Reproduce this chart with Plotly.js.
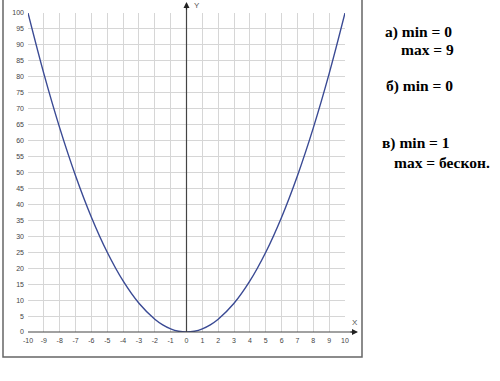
<!DOCTYPE html>
<html>
<head>
<meta charset="utf-8">
<script src="https://cdn.plot.ly/plotly-3.0.1.min.js"></script>
<style>html,body{margin:0;padding:0;background:#fff;}#chart{width:500px;height:381px;}</style>
</head>
<body>
<div id="chart"></div>
<script>
const xValues = [-10,-9,-8,-7,-6,-5,-4,-3,-2,-1.5,-1,-0.5,0,0.5,1,1.5,2,3,4,5,6,7,8,9,10];
const yValues = [100,81,64,49,36,25,16,9,4,2.25,1,0.25,0,0.25,1,2.25,4,9,16,25,36,49,64,81,100];
const xTicks = [-10,-9,-8,-7,-6,-5,-4,-3,-2,-1,0,1,2,3,4,5,6,7,8,9,10];
const yTicks = [0,5,10,15,20,25,30,35,40,45,50,55,60,65,70,75,80,85,90,95,100];
const notes = [
  {text:'а) min = 0', px:383, py:32},
  {text:'max = 9', px:399, py:49},
  {text:'б) min = 0', px:384, py:86},
  {text:'в) min = 1', px:380, py:143},
  {text:'max = бескон.', px:392, py:162}
];

const L = 28, R = 345, T = 13, B = 332;
const W = R - L, H = B - T;
const px2x = p => (p - L) / W;
const py2y = p => (B - p) / H;

const annotations = notes.map(n => ({
  xref:'paper', yref:'paper', x: px2x(n.px), y: py2y(n.py),
  xanchor:'left', yanchor:'middle', showarrow:false, text:'<b>'+n.text+'</b>',
  font:{family:'Liberation Serif, Times New Roman, serif', size:15.5, color:'#000'}
}));
// axis arrowheads
annotations.push({xref:'paper', yref:'paper', x:0.5, y:py2y(2), ax:0, ay:9, showarrow:true,
  arrowhead:2, arrowsize:1, arrowwidth:1.2, arrowcolor:'#222', text:''});
annotations.push({xref:'paper', yref:'paper', x:px2x(358), y:0, ax:-9, ay:0, showarrow:true,
  arrowhead:2, arrowsize:1, arrowwidth:1.2, arrowcolor:'#222', text:''});
annotations.push({xref:'paper', yref:'paper', x:px2x(192), y:py2y(5), xanchor:'left', yanchor:'middle',
  showarrow:false, text:'Y', font:{family:'Liberation Sans, Arial, sans-serif', size:8, color:'#555'}});
annotations.push({xref:'paper', yref:'paper', x:px2x(355), y:py2y(322), xanchor:'center', yanchor:'middle',
  showarrow:false, text:'X', font:{family:'Liberation Sans, Arial, sans-serif', size:8, color:'#555'}});

const shapes = [
  {type:'line', xref:'paper', yref:'paper', x0:0.5, x1:0.5, y0:0, y1:py2y(4), line:{color:'#444', width:1.2}},
  {type:'line', xref:'paper', yref:'paper', x0:0, x1:px2x(354), y0:0, y1:0, line:{color:'#444', width:1.2}},
  {type:'rect', xref:'paper', yref:'paper', x0:px2x(3), x1:px2x(362), y0:py2y(357), y1:py2y(-2), line:{color:'#666', width:1.5}, fillcolor:'rgba(0,0,0,0)'}
];

const data = [{
  x: xValues, y: yValues, type:'scatter', mode:'lines',
  line:{color:'#3a4a94', width:1.4, shape:'spline', smoothing:1}, cliponaxis:false, hoverinfo:'none'
}];

const layout = {
  width:500, height:381,
  margin:{l:L, r:500-R, t:T, b:381-B, pad:0},
  paper_bgcolor:'#fff', plot_bgcolor:'#fff',
  showlegend:false,
  xaxis:{range:[-10,10], tickvals:xTicks, ticktext:xTicks.map(String), showgrid:true, gridcolor:'#d6d6d6', gridwidth:1,
    zeroline:false, showline:false, ticks:'', ticklabelstandoff:3,
    tickfont:{family:'Liberation Sans, Arial, sans-serif', size:7, color:'#444'}},
  yaxis:{range:[0,100], tickvals:yTicks, ticktext:yTicks.map(String), showgrid:true, gridcolor:'#d6d6d6', gridwidth:1,
    zeroline:false, showline:false, ticks:'', ticklabelstandoff:3,
    tickfont:{family:'Liberation Sans, Arial, sans-serif', size:7, color:'#444'}},
  shapes: shapes,
  annotations: annotations
};

Plotly.newPlot('chart', data, layout, {staticPlot:true, displayModeBar:false});
</script>
</body>
</html>
